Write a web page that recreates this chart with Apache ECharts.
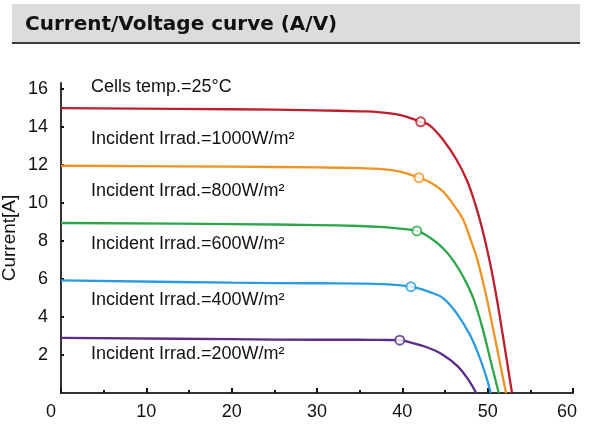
<!DOCTYPE html>
<html>
<head>
<meta charset="utf-8">
<script src="https://cdn.jsdelivr.net/npm/echarts@6/dist/echarts.min.js"></script>
<style>
html,body{margin:0;padding:0;background:#fff;}
#chart{width:589px;height:438px;}
</style>
</head>
<body>
<div id="chart"></div>
<script>
// ---- data (voltage [V], current [A]) ----
var titleText = 'Current/Voltage curve (A/V)';
var yAxisName = 'Current[A]';
var yTicks = [2, 4, 6, 8, 10, 12, 14, 16];
var xTicks = [0, 10, 20, 30, 40, 50, 60];

var v1000 = [0, 20, 30, 35, 37.4, 39.7, 42.15, 43.24, 44.8, 46.37, 47.55, 48.52, 49.3, 50.25, 51.06, 51.83, 52.85];
var i1000 = [14.98, 14.92, 14.86, 14.81, 14.76, 14.62, 14.26, 14.06, 13.3, 12.25, 11.2, 9.97, 8.74, 6.9, 4.98, 2.88, 0];
var v800 = [0, 20, 30, 35, 37.4, 39.7, 41.95, 43.24, 44.8, 46.17, 47.15, 47.93, 48.8, 49.89, 50.86, 52.15];
var i800 = [11.95, 11.9, 11.86, 11.82, 11.78, 11.64, 11.32, 11.08, 10.58, 9.79, 9.1, 8.15, 7.0, 4.98, 2.88, 0];
var v600 = [0, 20, 30, 35, 37.4, 39.7, 41.7, 43.3, 44.8, 46.0, 47.15, 48.3, 49.4, 50.4, 51.3];
var i600 = [8.94, 8.88, 8.83, 8.78, 8.73, 8.64, 8.52, 8.15, 7.6, 6.95, 6.1, 5.0, 3.4, 1.6, 0];
var v400 = [0, 20, 30, 35, 37.4, 41.0, 43.24, 44.8, 46.37, 47.93, 49.1, 49.89, 50.36];
var i400 = [5.92, 5.8, 5.77, 5.75, 5.73, 5.59, 5.3, 4.98, 4.19, 3.05, 1.82, 0.77, 0];
var v200 = [0, 20, 30, 35, 37.4, 39.7, 41.0, 42.8, 44.6, 46.5, 47.9, 48.65];
var i200 = [2.9, 2.83, 2.8, 2.8, 2.79, 2.78, 2.65, 2.42, 2.05, 1.4, 0.59, 0];

// maximum power points
var mppV = [42.15, 41.95, 41.7, 41.0, 39.7];
var mppI = [14.26, 11.32, 8.52, 5.59, 2.78];

var seriesNames = ['1000W/m²', '800W/m²', '600W/m²', '400W/m²', '200W/m²'];
var annotations = ['Cells temp.=25°C', 'Incident Irrad.=1000W/m²', 'Incident Irrad.=800W/m²',
  'Incident Irrad.=600W/m²', 'Incident Irrad.=400W/m²', 'Incident Irrad.=200W/m²'];

// ---- presentation ----
var colors = ['#bd1f2d', '#ee9324', '#2da64a', '#2a9be0', '#5a2d86'];
var annY = [88, 140, 192, 245, 301, 355];

function pairs(v, i) { return v.map(function (x, k) { return [x, i[k]]; }); }
var curves = [pairs(v1000, i1000), pairs(v800, i800), pairs(v600, i600), pairs(v400, i400), pairs(v200, i200)];

var series = [];
curves.forEach(function (d, k) {
  series.push({
    name: seriesNames[k], type: 'line', data: d, showSymbol: false, symbol: 'none',
    smooth: 0.4,
    lineStyle: { color: colors[k], width: 2.3 }, z: 3
  });
  series.push({
    name: seriesNames[k] + ' MPP', type: 'scatter', data: [[mppV[k], mppI[k]]],
    symbol: 'circle', symbolSize: 9,
    itemStyle: { color: '#fff', borderColor: colors[k], borderWidth: 2 }, z: 5
  });
});

var graphics = [
  { type: 'rect', shape: { x: 12, y: 4, width: 568, height: 39 }, style: { fill: '#dcdcdc' }, z: -10 },
  { type: 'rect', shape: { x: 12, y: 42, width: 568, height: 2 }, style: { fill: '#3c3c3c' }, z: -9 }
];
annotations.forEach(function (t, k) {
  graphics.push({
    type: 'text', left: 91, top: annY[k] - 10,
    style: { text: t, fill: '#111', font: '18px "Liberation Sans", Arial, sans-serif' }
  });
});

var labelFont = '"Liberation Sans", Arial, sans-serif';
var chart = echarts.init(document.getElementById('chart'), null, { renderer: 'canvas' });
chart.setOption({
  animation: false,
  backgroundColor: '#fff',
  title: {
    text: titleText, left: 20, top: 10,
    textStyle: { fontFamily: '"DejaVu Sans", sans-serif', fontWeight: 'bold', fontSize: 20, color: '#111' }
  },
  graphic: graphics,
  grid: { left: 61, right: 16, top: 83, bottom: 45, containLabel: false, outerBoundsMode: 'none' },
  xAxis: {
    type: 'value', min: 0, max: 60, interval: 10,
    axisLine: { lineStyle: { color: '#333', width: 2 } },
    axisTick: { show: true, inside: true, length: 5, lineStyle: { color: '#111', width: 2 } },
    minorTick: { show: true, splitNumber: 2, length: 3, lineStyle: { color: '#111', width: 2 } },
    axisLabel: {
      color: '#111', fontSize: 18, margin: 10, fontFamily: labelFont,
      formatter: function (v) {
        if (v === xTicks[0]) return '{a|' + v + '}';
        if (v === xTicks[xTicks.length - 1]) return '{b|' + v + '}';
        return String(v);
      },
      rich: {
        a: { fontSize: 18, fontFamily: labelFont, color: '#111', padding: [0, 20, 0, 0] },
        b: { fontSize: 18, fontFamily: labelFont, color: '#111', padding: [0, 12, 0, 0] }
      }
    },
    splitLine: { show: false }
  },
  yAxis: {
    type: 'value', min: 0, max: 16.3,
    name: yAxisName, nameLocation: 'middle', nameGap: 42, nameRotate: 90, nameMoveOverlap: false,
    nameTextStyle: { color: '#111', fontSize: 19, fontFamily: labelFont },
    axisLine: { show: true, lineStyle: { color: '#333', width: 2 } },
    axisTick: { show: true, inside: true, length: 3, customValues: yTicks, lineStyle: { color: '#111', width: 2 } },
    axisLabel: { color: '#111', fontSize: 18, margin: 13, customValues: yTicks, fontFamily: labelFont },
    splitLine: { show: false }
  },
  series: series
});
</script>
</body>
</html>
